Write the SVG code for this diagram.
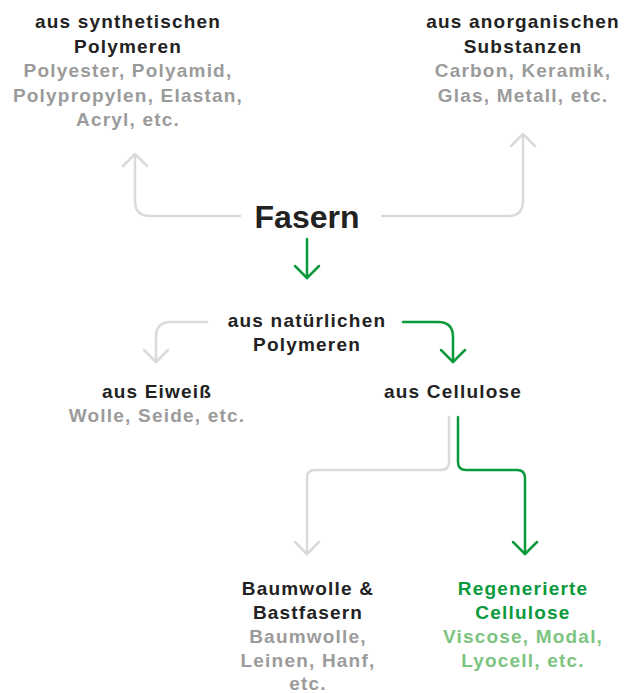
<svg xmlns="http://www.w3.org/2000/svg" width="632" height="693" viewBox="0 0 632 693">
<style>
text{font-family:"Liberation Sans",Arial,sans-serif;font-weight:bold;font-size:19px;letter-spacing:1.2px;text-anchor:middle}
.h{fill:#222}
.s{fill:#9b9b9b}
.g{fill:#0a9a3c}
.lg{fill:#7cc47f}
.cg{fill:none;stroke:#dadada;stroke-width:2.5;stroke-linecap:round;stroke-linejoin:round}
.cn{fill:none;stroke:#0a9a3c;stroke-width:2.5;stroke-linecap:round;stroke-linejoin:round}
</style>
<rect width="632" height="693" fill="#fff"/>
<g id="connectors">
<path class="cg" d="M240 216 H150 Q135 216 135 201 V155"/>
<path class="cg" d="M123 166 L135 154 L147 166"/>
<path class="cg" d="M382 216 H508 Q523 216 523 201 V135"/>
<path class="cg" d="M511 146 L523 134 L535 146"/>
<path class="cn" d="M307 239 V278"/>
<path class="cn" d="M295 266 L307 278 L319 266"/>
<path class="cg" d="M207 322 H171 Q156 322 156 337 V362"/>
<path class="cg" d="M144 350 L156 362 L168 350"/>
<path class="cn" d="M403 322 H438 Q453 322 453 337 V362"/>
<path class="cn" d="M441 350 L453 362 L465 350"/>
<path class="cg" d="M449 417 V462 Q449 470 441 470 H315 Q307 470 307 478 V554"/>
<path class="cg" d="M295 542 L307 554 L319 542"/>
<path class="cn" d="M458 417 V462 Q458 470 466 470 H517 Q525 470 525 478 V554"/>
<path class="cn" d="M513 542 L525 554 L537 542"/>
</g>
<g id="fasern"><text class="h" x="307" y="228" style="font-size:32px;letter-spacing:0">Fasern</text></g>
<g id="synthetisch">
<text class="h" x="128" y="28">aus synthetischen</text>
<text class="h" x="128" y="53">Polymeren</text>
<text class="s" x="128" y="77">Polyester, Polyamid,</text>
<text class="s" x="128" y="102">Polypropylen, Elastan,</text>
<text class="s" x="128" y="126">Acryl, etc.</text>
</g>
<g id="anorganisch">
<text class="h" x="523" y="28">aus anorganischen</text>
<text class="h" x="523" y="53">Substanzen</text>
<text class="s" x="523" y="77">Carbon, Keramik,</text>
<text class="s" x="523" y="102">Glas, Metall, etc.</text>
</g>
<g id="natuerlich">
<text class="h" x="307" y="327">aus natürlichen</text>
<text class="h" x="307" y="351">Polymeren</text>
</g>
<g id="eiweiss">
<text class="h" x="157" y="398">aus Eiweiß</text>
<text class="s" x="157" y="422">Wolle, Seide, etc.</text>
</g>
<g id="cellulose">
<text class="h" x="453" y="398">aus Cellulose</text>
</g>
<g id="baumwolle">
<text class="h" x="308" y="595">Baumwolle &amp;</text>
<text class="h" x="308" y="619">Bastfasern</text>
<text class="s" x="308" y="643">Baumwolle,</text>
<text class="s" x="308" y="667">Leinen, Hanf,</text>
<text class="s" x="308" y="690">etc.</text>
</g>
<g id="regeneriert">
<text class="g" x="523" y="595">Regenerierte</text>
<text class="g" x="523" y="619">Cellulose</text>
<text class="lg" x="523" y="643">Viscose, Modal,</text>
<text class="lg" x="523" y="667">Lyocell, etc.</text>
</g>
</svg>
